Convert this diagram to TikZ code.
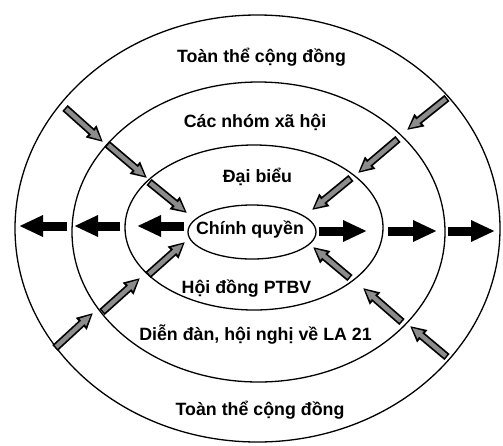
\documentclass[tikz,border=0pt]{standalone}
\usepackage{fontspec}
\newfontfamily\ringfont{Liberation Sans}
\usetikzlibrary{shapes.geometric}
\usetikzlibrary{arrows.meta}
\usetikzlibrary{positioning}

\tikzset{
  ring/.style={ellipse, draw, line width=1.3pt, inner sep=0pt},
  lbl/.style={font=\ringfont\bfseries\fontsize{17.8}{21}\selectfont, anchor=base, inner sep=0pt},
  outflow/.style={line width=9pt, -{Triangle[length=24pt, width=20pt]}},
  inflow/.style={line width=8pt, -{Triangle[length=16pt, width=15pt]},
    postaction={draw=black!45, line width=4.5pt, -{Triangle[length=11pt, width=9pt]},
      shorten >=2.8pt, shorten <=1.6pt}},
}

\begin{document}
\begin{tikzpicture}[x=1pt, y=-1pt]
    \useasboundingbox (0,0) rectangle (503,445);

    \node[ring, minimum width=485pt, minimum height=427pt] (community) at (257.5,228.5) {};
    \node[ring, minimum width=373pt, minimum height=300pt] (groups) at (258.5,232) {};
    \node[ring, minimum width=258pt, minimum height=165pt] (delegates) at (254,227.5) {};
    \node[ring, minimum width=128pt, minimum height=54pt] (gov) at (252,232) {};

    \node[lbl] (communitytop) at (261.5,62) {Toàn thể cộng đồng};
    \node[lbl] (groupslbl) at (255,127) {Các nhóm xã hội};
    \node[lbl] (delegateslbl) at (257.5,182.5) {Đại biểu};
    \node[lbl] (govlbl) at (250,234.5) {Chính quyền};
    \node[lbl] (councillbl) at (246.5,293) {Hội đồng PTBV};
    \node[lbl] (forumlbl) at (255.5,340.5) {Diễn đàn, hội nghị về LA 21};
    \node[lbl] (communitybot) at (260,415) {Toàn thể cộng đồng};

    % outward arrows
    \foreach \t/\h [count=\i] in {184/137, 120/74, 67/19} {
        \coordinate (wt\i) at (\t,226);
        \coordinate (wh\i) at (\h,226);
        \draw[outflow] (wt\i) -- (wh\i);
    }
    \foreach \t/\h [count=\i] in {319/367, 388/437, 448/495} {
        \coordinate (et\i) at (\t,231);
        \coordinate (eh\i) at (\h,231);
        \draw[outflow] (et\i) -- (eh\i);
    }

    % inward arrows
    \foreach \tx/\ty/\hx/\hy [count=\i] in {65/108/103/142, 107/144/147/178, 149/182/187/213,
        447/98/407/130, 398/139/358/173, 351/178/312/210,
        55/348/93/313, 102/312/140/278, 148/275/185/242,
        447/357/410/326, 402/322/363/288, 350/278/313/247} {
        \coordinate (it\i) at (\tx,\ty);
        \coordinate (ih\i) at (\hx,\hy);
        \draw[inflow] (it\i) -- (ih\i);
    }
\end{tikzpicture}
\end{document}
